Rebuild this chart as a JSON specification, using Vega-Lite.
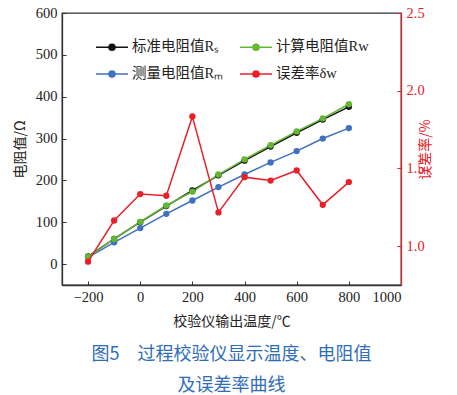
{
  "$schema": "https://vega.github.io/schema/vega-lite/v6.json",
  "width": 339,
  "height": 272,
  "autosize": {"type": "none"},
  "padding": {"left": 62, "top": 13, "right": 56, "bottom": 110},
  "background": "white",
  "config": {
    "font": "Liberation Serif, Noto Sans CJK SC",
    "view": {"stroke": "#333333", "strokeWidth": 1.3},
    "axis": {
      "grid": false,
      "domainColor": "#333333",
      "domainWidth": 1.3,
      "tickColor": "#333333",
      "tickSize": -4,
      "labelPadding": 9,
      "labelFont": "Liberation Serif",
      "labelFontSize": 14.5,
      "labelColor": "#222222",
      "titleFont": "Noto Sans CJK SC",
      "titleFontSize": 14,
      "titleFontWeight": "normal",
      "titleColor": "#222222"
    }
  },
  "title": {
    "text": ["图5　过程校验仪显示温度、电阻值", "及误差率曲线"],
    "orient": "bottom",
    "anchor": "middle",
    "color": "#2f6db5",
    "font": "Noto Sans CJK SC",
    "fontSize": 18,
    "fontWeight": "normal",
    "lineHeight": 31,
    "offset": 17
  },
  "data": {
    "values": [
      {"t": -200, "s": "标准电阻值Rₛ", "v": 18.52},
      {"t": -100, "s": "标准电阻值Rₛ", "v": 60.26},
      {"t": 0, "s": "标准电阻值Rₛ", "v": 100},
      {"t": 100, "s": "标准电阻值Rₛ", "v": 138.51},
      {"t": 200, "s": "标准电阻值Rₛ", "v": 175.86},
      {"t": 300, "s": "标准电阻值Rₛ", "v": 212.05},
      {"t": 400, "s": "标准电阻值Rₛ", "v": 247.09},
      {"t": 500, "s": "标准电阻值Rₛ", "v": 280.98},
      {"t": 600, "s": "标准电阻值Rₛ", "v": 313.71},
      {"t": 700, "s": "标准电阻值Rₛ", "v": 345.28},
      {"t": 800, "s": "标准电阻值Rₛ", "v": 375.7},
      {"t": -200, "s": "测量电阻值Rₘ", "v": 16},
      {"t": -100, "s": "测量电阻值Rₘ", "v": 52},
      {"t": 0, "s": "测量电阻值Rₘ", "v": 86},
      {"t": 100, "s": "测量电阻值Rₘ", "v": 120},
      {"t": 200, "s": "测量电阻值Rₘ", "v": 152},
      {"t": 300, "s": "测量电阻值Rₘ", "v": 184},
      {"t": 400, "s": "测量电阻值Rₘ", "v": 214},
      {"t": 500, "s": "测量电阻值Rₘ", "v": 243},
      {"t": 600, "s": "测量电阻值Rₘ", "v": 270},
      {"t": 700, "s": "测量电阻值Rₘ", "v": 300},
      {"t": 800, "s": "测量电阻值Rₘ", "v": 325},
      {"t": -200, "s": "计算电阻值Rw", "v": 18},
      {"t": -100, "s": "计算电阻值Rw", "v": 60},
      {"t": 0, "s": "计算电阻值Rw", "v": 101},
      {"t": 100, "s": "计算电阻值Rw", "v": 140},
      {"t": 200, "s": "计算电阻值Rw", "v": 173},
      {"t": 300, "s": "计算电阻值Rw", "v": 214},
      {"t": 400, "s": "计算电阻值Rw", "v": 250},
      {"t": 500, "s": "计算电阻值Rw", "v": 284},
      {"t": 600, "s": "计算电阻值Rw", "v": 317},
      {"t": 700, "s": "计算电阻值Rw", "v": 348},
      {"t": 800, "s": "计算电阻值Rw", "v": 382},
      {"t": -200, "s": "误差率δw", "v": 0.9},
      {"t": -100, "s": "误差率δw", "v": 1.165},
      {"t": 0, "s": "误差率δw", "v": 1.335},
      {"t": 100, "s": "误差率δw", "v": 1.324},
      {"t": 200, "s": "误差率δw", "v": 1.834},
      {"t": 300, "s": "误差率δw", "v": 1.217},
      {"t": 400, "s": "误差率δw", "v": 1.444},
      {"t": 500, "s": "误差率δw", "v": 1.422},
      {"t": 600, "s": "误差率δw", "v": 1.487},
      {"t": 700, "s": "误差率δw", "v": 1.266},
      {"t": 800, "s": "误差率δw", "v": 1.412}
    ]
  },
  "layer": [
    {
      "transform": [{"filter": "datum.s !== '误差率δw'"}],
      "mark": {"type": "line", "strokeWidth": 1.5, "point": {"filled": true, "size": 40, "opacity": 1}},
      "encoding": {
        "x": {
          "field": "t", "type": "quantitative",
          "scale": {"domain": [-300, 1000], "nice": false, "zero": false},
          "axis": {"values": [-200, 0, 200, 400, 600, 800, 1000], "format": "d", "title": "校验仪输出温度/℃", "titlePadding": 11}
        },
        "y": {
          "field": "v", "type": "quantitative",
          "scale": {"domain": [-50, 600], "nice": false, "zero": false},
          "axis": {"values": [0, 100, 200, 300, 400, 500, 600], "title": "电阻值/Ω", "titlePadding": 8}
        },
        "color": {
          "field": "s", "type": "nominal",
          "scale": {
            "domain": ["标准电阻值Rₛ", "测量电阻值Rₘ", "计算电阻值Rw", "误差率δw"],
            "range": ["#111111", "#4070c0", "#62b835", "#e8202a"]
          },
          "legend": {
            "orient": "none",
            "legendX": 33,
            "legendY": 17,
            "columns": 2,
            "title": null,
            "symbolType": "M-1,0H1M-0.19,0A0.19,0.19,0,1,0,0.19,0A0.19,0.19,0,1,0,-0.19,0Z",
            "symbolSize": 1024,
            "symbolStrokeWidth": 1.5,
            "labelFont": "Liberation Serif, Noto Sans CJK SC",
            "labelFontSize": 14.5,
            "labelColor": "#222222",
            "labelOffset": 3,
            "rowPadding": 3,
            "columnPadding": 13,
            "encode": {
              "symbols": {"update": {"fill": {"scale": "color", "field": "value"}, "stroke": {"scale": "color", "field": "value"}, "opacity": {"value": 1}}}
            }
          }
        }
      }
    },
    {
      "transform": [{"filter": "datum.s === '误差率δw'"}],
      "mark": {"type": "line", "strokeWidth": 1.5, "point": {"filled": true, "size": 40, "opacity": 1}},
      "encoding": {
        "x": {"field": "t", "type": "quantitative"},
        "y": {
          "field": "v", "type": "quantitative",
          "scale": {"domain": [0.75, 2.5], "nice": false, "zero": false},
          "axis": {
            "orient": "right",
            "values": [1.0, 1.5, 2.0, 2.5],
            "format": ".1f",
            "title": "误差率/%",
            "titleAngle": 270,
            "titlePadding": 8,
            "domainColor": "#e8202a",
            "tickColor": "#e8202a",
            "labelColor": "#e8202a",
            "titleColor": "#e8202a"
          }
        },
        "color": {"field": "s", "type": "nominal"}
      }
    }
  ],
  "resolve": {"scale": {"y": "independent"}}
}
